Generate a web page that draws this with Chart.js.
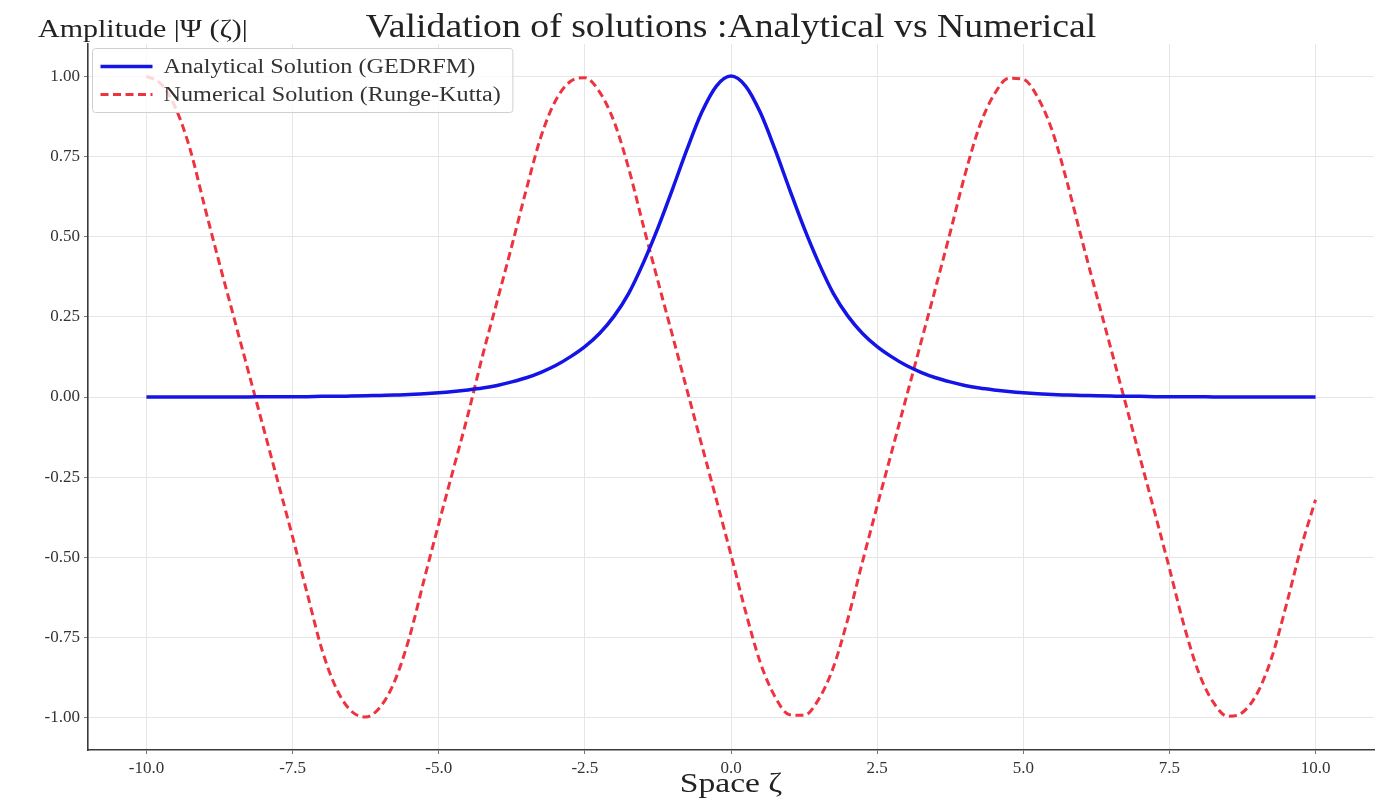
<!DOCTYPE html>
<html>
<head>
<meta charset="utf-8">
<title>Validation of solutions</title>
<script src="https://cdn.jsdelivr.net/npm/chart.js@4.4.1/dist/chart.umd.min.js"></script>
<style>
  html, body { margin: 0; padding: 0; background: #fff; }
  #wrap { width: 1381px; height: 803px; }
</style>
</head>
<body>
<div id="wrap"><canvas id="chart"></canvas></div>
<script>
// space coordinate (zeta), sampled every 0.25
const zeta = [
  -10, -9.75, -9.5, -9.25, -9, -8.75, -8.5, -8.25, -8, -7.75,
  -7.5, -7.25, -7, -6.75, -6.5, -6.25, -6, -5.75, -5.5, -5.25,
  -5, -4.75, -4.5, -4.25, -4, -3.75, -3.5, -3.25, -3, -2.75,
  -2.5, -2.25, -2, -1.75, -1.5, -1.25, -1, -0.75, -0.5, -0.25,
  0, 0.25, 0.5, 0.75, 1, 1.25, 1.5, 1.75, 2, 2.25,
  2.5, 2.75, 3, 3.25, 3.5, 3.75, 4, 4.25, 4.5, 4.75,
  5, 5.25, 5.5, 5.75, 6, 6.25, 6.5, 6.75, 7, 7.25,
  7.5, 7.75, 8, 8.25, 8.5, 8.75, 9, 9.25, 9.5, 9.75, 10
];

// Analytical Solution (GEDRFM)
const analytical = [
  0, 0, 0, 0, 0, 0, 0, 0, 0.001, 0.001,
  0.001, 0.001, 0.002, 0.002, 0.003, 0.004, 0.005, 0.006, 0.008, 0.010,
  0.013, 0.017, 0.022, 0.028, 0.036, 0.047, 0.060, 0.077, 0.098, 0.125,
  0.157, 0.198, 0.252, 0.323, 0.418, 0.527, 0.648, 0.773, 0.887, 0.969,
  1.000, 0.969, 0.887, 0.773, 0.648, 0.527, 0.418, 0.323, 0.252, 0.198,
  0.157, 0.125, 0.098, 0.077, 0.060, 0.047, 0.036, 0.028, 0.022, 0.017,
  0.013, 0.010, 0.008, 0.006, 0.005, 0.004, 0.003, 0.002, 0.002, 0.001,
  0.001, 0.001, 0.001, 0, 0, 0, 0, 0, 0, 0, 0
];

// Numerical Solution (Runge-Kutta)
const numerical = [
  1.000, 0.975, 0.900, 0.770, 0.590, 0.415, 0.245, 0.075, -0.095, -0.265,
  -0.436, -0.612, -0.786, -0.909, -0.978, -0.997, -0.966, -0.884, -0.748, -0.569,
  -0.395, -0.225, -0.055, 0.129, 0.299, 0.471, 0.648, 0.812, 0.924, 0.983,
  0.995, 0.951, 0.858, 0.712, 0.534, 0.361, 0.191, 0.020, -0.150, -0.320,
  -0.492, -0.669, -0.827, -0.933, -0.990, -0.992, -0.942, -0.843, -0.691, -0.513,
  -0.340, -0.170, 0.000, 0.170, 0.340, 0.513, 0.691, 0.843, 0.942, 0.993,
  0.990, 0.933, 0.827, 0.669, 0.492, 0.320, 0.150, -0.020, -0.191, -0.361,
  -0.534, -0.712, -0.858, -0.951, -0.995, -0.983, -0.924, -0.812, -0.648, -0.471, -0.320
];

const xTicks = [-10, -7.5, -5, -2.5, 0, 2.5, 5, 7.5, 10];
const yTicks = [-1, -0.75, -0.5, -0.25, 0, 0.25, 0.5, 0.75, 1];

const FONT = "'Liberation Serif', 'DejaVu Serif', serif";
const TEXT = '#333333';

function toPoints(ys) {
  return zeta.map((x, i) => ({ x: x, y: ys[i] }));
}

// the reference text is a bit wider than Liberation Serif, so stretch it
function wideText(ctx, text, x, y, sx, align) {
  ctx.save();
  ctx.translate(x, y);
  ctx.scale(sx, 1);
  ctx.textAlign = align;
  ctx.fillText(text, 0, 0);
  ctx.restore();
}

// title, axis labels and the framed legend drawn on the canvas
const decor = {
  id: 'decor',
  afterDatasetsDraw(chart) {
    const ctx = chart.ctx;
    const a = chart.chartArea;
    const sets = chart.data.datasets;
    const sx = 1.21;
    ctx.save();
    ctx.font = '20px ' + FONT;
    let tw = 0;
    sets.forEach(d => { tw = Math.max(tw, ctx.measureText(d.label).width * sx); });
    const bx = a.left + 4.5, by = a.top + 4.5;
    const bw = 75 + tw + 8, bh = 64;
    ctx.beginPath();
    ctx.roundRect(bx, by, bw, bh, 3);
    ctx.fillStyle = 'rgba(255,255,255,0.8)';
    ctx.fill();
    ctx.strokeStyle = '#d0d0d0';
    ctx.lineWidth = 1;
    ctx.stroke();
    sets.forEach((d, i) => {
      const y = by + 18 + i * 28;
      ctx.beginPath();
      ctx.setLineDash(d.borderDash || []);
      ctx.strokeStyle = d.borderColor;
      ctx.lineWidth = d.borderWidth;
      ctx.moveTo(bx + 8, y);
      ctx.lineTo(bx + 60, y);
      ctx.stroke();
      ctx.setLineDash([]);
      ctx.fillStyle = TEXT;
      ctx.textBaseline = 'middle';
      wideText(ctx, d.label, bx + 71, y + 1, sx, 'left');
    });
    ctx.restore();
  },
  afterDraw(chart) {
    const ctx = chart.ctx;
    const a = chart.chartArea;
    const mid = (a.left + a.right) / 2;
    ctx.save();
    ctx.fillStyle = '#222';
    ctx.textBaseline = 'middle';
    ctx.font = '34px ' + FONT;
    wideText(ctx, 'Validation of solutions :Analytical vs Numerical', mid, 28, 1.11, 'center');
    ctx.font = '28px ' + FONT;
    wideText(ctx, 'Space \u03b6', mid, 785, 1.2, 'center');
    ctx.font = '25px ' + FONT;
    wideText(ctx, 'Amplitude |\u03a8 (\u03b6)|', 38, 30, 1.2, 'left');
    ctx.restore();
  }
};

new Chart(document.getElementById('chart'), {
  type: 'line',
  data: {
    datasets: [
      {
        label: 'Analytical Solution (GEDRFM)',
        data: toPoints(analytical),
        borderColor: '#1414e6',
        borderWidth: 3.5,
        pointRadius: 0,
        cubicInterpolationMode: 'monotone',
        fill: false
      },
      {
        label: 'Numerical Solution (Runge-Kutta)',
        data: toPoints(numerical),
        borderColor: '#ee3340',
        borderWidth: 3,
        borderDash: [8, 4.5],
        pointRadius: 0,
        cubicInterpolationMode: 'monotone',
        fill: false
      }
    ]
  },
  options: {
    responsive: true,
    maintainAspectRatio: false,
    animation: false,
    layout: { padding: { top: 44, right: 7, left: 0, bottom: 0 } },
    plugins: {
      legend: { display: false },
      title: { display: false },
      tooltip: { enabled: false }
    },
    scales: {
      x: {
        type: 'linear',
        min: -11,
        max: 11,
        afterBuildTicks: s => { s.ticks = xTicks.map(v => ({ value: v })); },
        afterFit: s => { s.height = 53; },
        ticks: {
          callback: v => v.toFixed(1),
          font: { family: FONT, size: 17 },
          color: TEXT,
          padding: 4,
          maxRotation: 0
        },
        grid: { color: '#e6e6e6', lineWidth: 1, tickLength: 4, tickColor: '#777' },
        border: { display: true, color: '#3a3a3a', width: 1.6 }
      },
      y: {
        min: -1.1,
        max: 1.1,
        afterBuildTicks: s => { s.ticks = yTicks.map(v => ({ value: v })); },
        afterFit: s => { s.width = 88; },
        ticks: {
          callback: v => v.toFixed(2),
          font: { family: FONT, size: 17 },
          color: TEXT,
          padding: 4
        },
        grid: { color: '#e6e6e6', lineWidth: 1, tickLength: 4, tickColor: '#777' },
        border: { display: true, color: '#3a3a3a', width: 1.6 }
      }
    }
  },
  plugins: [decor]
});
</script>
</body>
</html>
